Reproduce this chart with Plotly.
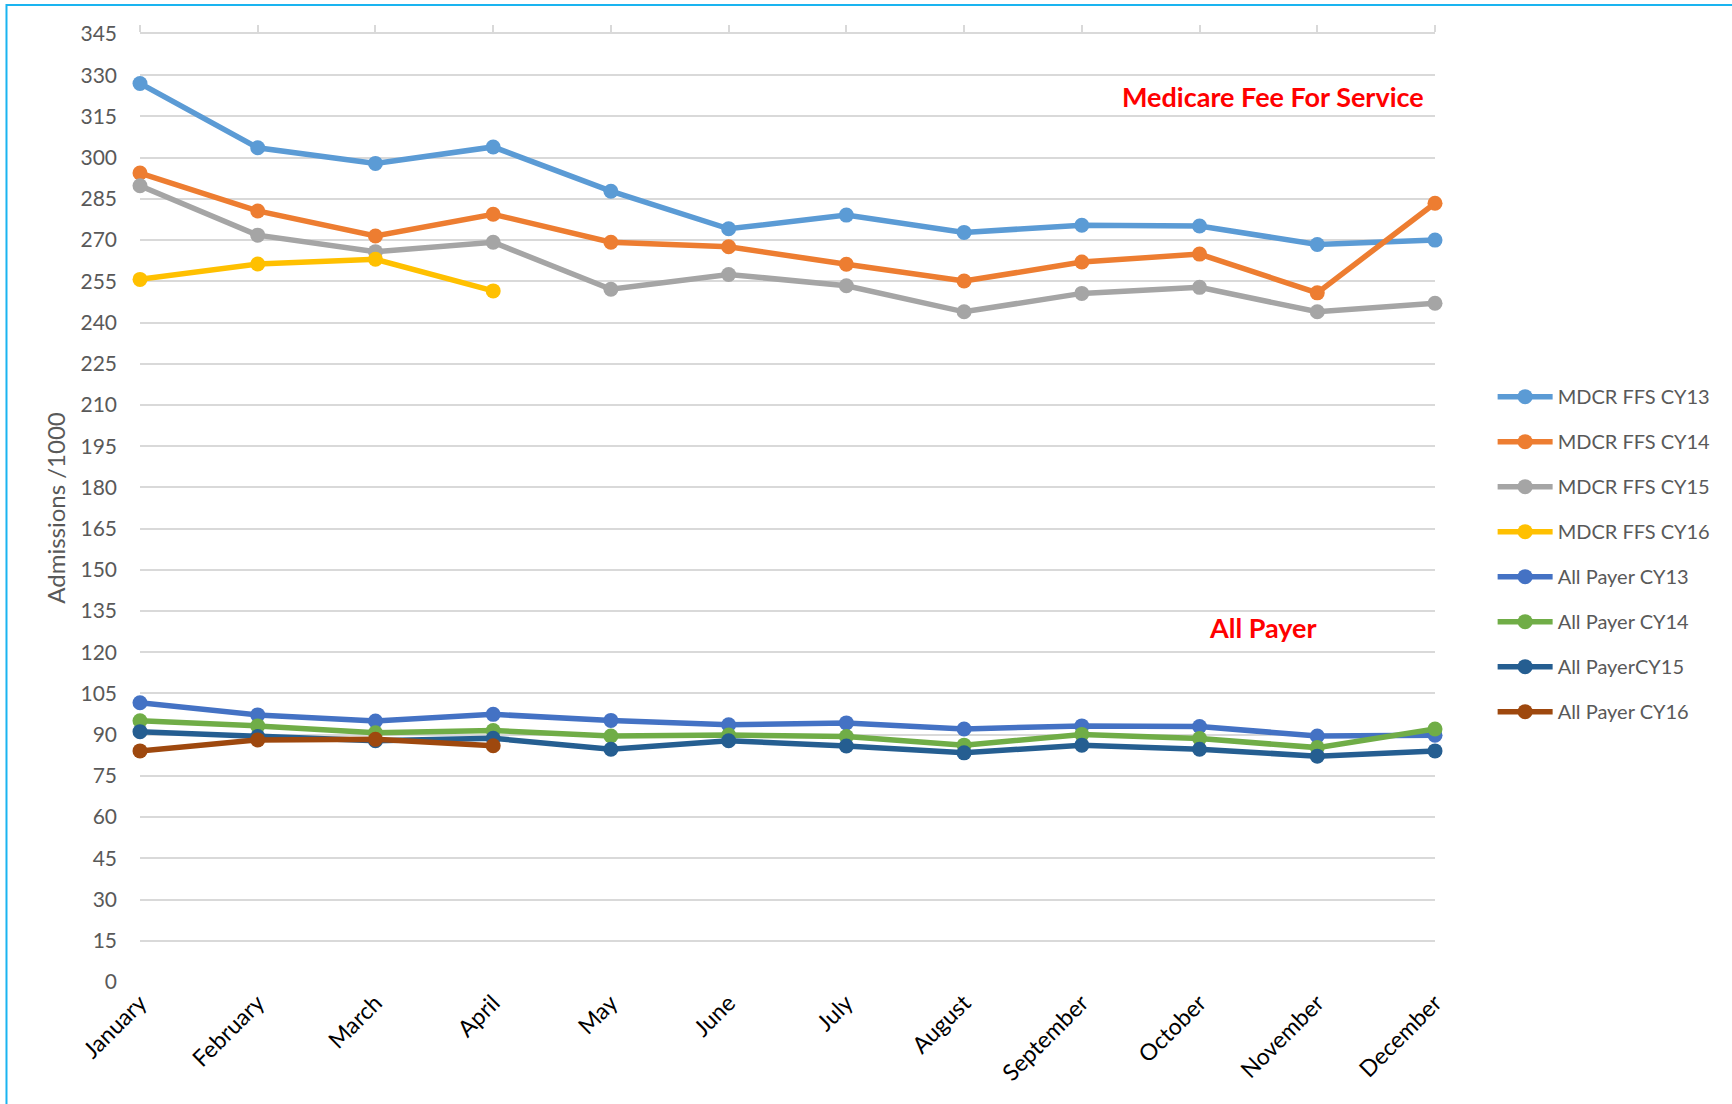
import plotly.graph_objects as go

months = ['January', 'February', 'March', 'April', 'May', 'June', 'July',
          'August', 'September', 'October', 'November', 'December']

mdcr_cy13 = [327.0, 303.6, 297.9, 303.9, 287.8, 274.1, 279.1, 272.8, 275.4, 275.1, 268.4, 270.0]
mdcr_cy14 = [294.4, 280.6, 271.5, 279.4, 269.2, 267.6, 261.2, 255.1, 262.0, 264.9, 250.8, 283.4]
mdcr_cy15 = [289.8, 271.8, 265.8, 269.2, 252.1, 257.5, 253.4, 243.9, 250.6, 252.8, 243.9, 247.0]
mdcr_cy16 = [255.7, 261.3, 263.0, 251.5]
ap_cy13 = [101.6, 97.2, 95.0, 97.4, 95.2, 93.6, 94.3, 92.1, 93.2, 93.0, 89.5, 89.8]
ap_cy14 = [95.1, 93.2, 90.7, 91.5, 89.5, 89.9, 89.3, 86.2, 90.1, 88.6, 85.3, 92.1]
ap_cy15 = [91.1, 89.3, 87.8, 88.7, 84.7, 87.8, 85.9, 83.4, 86.2, 84.7, 82.2, 84.1]
ap_cy16 = [84.1, 88.1, 88.3, 86.0]

series = [
    ('MDCR FFS CY13', mdcr_cy13, '#5B9BD5'),
    ('MDCR FFS CY14', mdcr_cy14, '#ED7D31'),
    ('MDCR FFS CY15', mdcr_cy15, '#A5A5A5'),
    ('MDCR FFS CY16', mdcr_cy16, '#FFC000'),
    ('All Payer CY13', ap_cy13, '#4472C4'),
    ('All Payer CY14', ap_cy14, '#70AD47'),
    ('All PayerCY15', ap_cy15, '#255E91'),
    ('All Payer CY16', ap_cy16, '#9E480E'),
]

fig = go.Figure()
for i, (name, vals, col) in enumerate(series):
    fig.add_trace(go.Scatter(
        x=months[:len(vals)], y=vals, name=name, mode='lines+markers',
        line=dict(color=col, width=5.5),
        marker=dict(color=col, size=15),
        legendgroup=str(i), cliponaxis=False,
    ))

# invisible trace so the top axis (ticks only) gets drawn
fig.add_trace(go.Scatter(x=months, y=[None] * len(months), xaxis='x2',
                         showlegend=False, hoverinfo='skip'))

font = 'Lato, Carlito, Calibri, sans-serif'
grey = '#D9D9D9'

fig.update_layout(
    width=1732, height=1104,
    margin=dict(l=140, r=297, t=34, b=122),
    paper_bgcolor='white', plot_bgcolor='white',
    font=dict(family=font, size=21, color='#595959'),
    xaxis=dict(
        type='category', categoryarray=months, range=[0, 11],
        showgrid=False, showline=False, zeroline=False, ticks='',
        tickangle=-45, tickfont=dict(color='#000000', size=23),
        ticklabelstandoff=2,
    ),
    xaxis2=dict(
        type='category', categoryarray=months, range=[0, 11],
        overlaying='x', side='top', showgrid=False, zeroline=False,
        showline=True, linecolor=grey, linewidth=1.5,
        ticks='outside', ticklen=7, tickwidth=1.5, tickcolor=grey,
        showticklabels=False,
    ),
    yaxis=dict(
        range=[0, 345], dtick=15, tick0=0,
        showgrid=True, gridcolor=grey, gridwidth=1.5,
        showline=False, zeroline=False, ticks='',
        ticklabelstandoff=22,
        title=dict(text='Admissions /1000', font=dict(size=24, color='#595959'),
                   standoff=8),
    ),
    legend=dict(
        x=1.0445, y=0.638, xanchor='left', yanchor='top',
        font=dict(size=20, color='#595959'),
        tracegroupgap=16, itemwidth=55,
        bgcolor='rgba(0,0,0,0)',
    ),
    showlegend=True,
    annotations=[
        dict(text='<b>Medicare Fee For Service</b>', xref='paper', yref='paper',
             x=0.9934, y=0.934, xanchor='right', yanchor='middle', showarrow=False,
             font=dict(size=27, color='#FF0000', family=font)),
        dict(text='<b>All Payer</b>', xref='paper', yref='paper',
             x=0.8672, y=0.3735, xanchor='center', yanchor='middle', showarrow=False,
             font=dict(size=27, color='#FF0000', family=font)),
    ],
    shapes=[
        dict(type='rect', xref='paper', yref='paper',
             x0=-0.1031, y0=-0.3, x1=1.4, y1=1.0306,
             line=dict(color='#1AB4F0', width=2), fillcolor='rgba(0,0,0,0)',
             layer='below'),
    ],
)

fig.write_html('out.html', config={'displayModeBar': False},
               post_script="document.body.style.margin='0';")
